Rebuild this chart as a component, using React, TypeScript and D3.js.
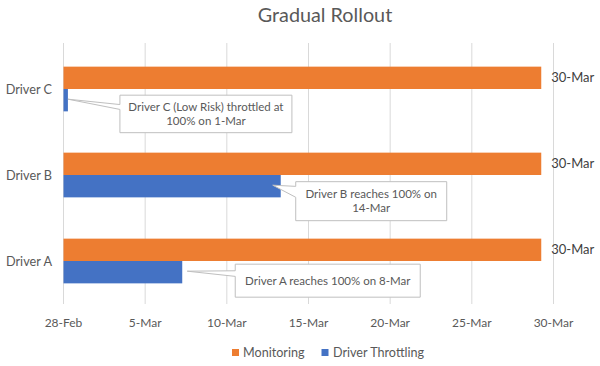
import * as d3 from 'd3';

// chart data (days counted from 28-Feb)
const categories = ['Driver C', 'Driver B', 'Driver A'];
const monitoringDays = [29.25, 29.25, 29.25];
const throttlingDays = [0.27, 13.3, 7.27];
const endLabels = ['30-Mar', '30-Mar', '30-Mar'];
const tickDays = [0, 5, 10, 15, 20, 25, 30];
const tickLabels = ['28-Feb', '5-Mar', '10-Mar', '15-Mar', '20-Mar', '25-Mar', '30-Mar'];
const seriesNames = ['Monitoring', 'Driver Throttling'];
const calloutText = [
  ['Driver C (Low Risk) throttled at', '100% on 1-Mar'],
  ['Driver B reaches 100% on', '14-Mar'],
  ['Driver A reaches 100% on 8-Mar'],
];

// callout box layout, relative to the end of the blue bar
const calloutLayout = [
  { dx: 52, dy: -4, w: 172, h: 37.5, tipDx: 0, b1: 0.25, b2: 0.38 },
  { dx: 15, dy: -3.5, w: 151, h: 39, tipDx: -8, b1: 0.12, b2: 0.4 },
  { dx: 53, dy: -7, w: 185, h: 33, tipDx: 5, b1: 0.2, b2: 0.37 },
];

const ORANGE = '#ED7D31';
const BLUE = '#4472C4';
const TEXT = '#595959';
const FONT = 'Lato, "Open Sans", sans-serif';

export default function App() {
  const width = 600;
  const height = 366;

  const x = d3.scaleLinear().domain([0, 30]).range([63.5, 553.5]);

  const y = d3.scaleBand<string>()
    .domain(categories)
    .range([46, 304])
    .paddingInner(0.48)
    .paddingOuter(0.24);

  const barH = y.bandwidth() / 2;

  return (
    <svg
      width={width}
      height={height}
      style={{ position: 'fixed', left: 0, top: 0, background: '#fff' }}
      fontFamily={FONT}
    >
      {/* Title */}
      <text x={325} y={22} textAnchor="middle" fontSize={19.8} fill={TEXT}>
        Gradual Rollout
      </text>

      {/* Gridlines */}
      {tickDays.map(t => (
        <line
          key={t}
          x1={x(t)}
          x2={x(t)}
          y1={43}
          y2={304}
          stroke="#d9d9d9"
          strokeWidth={1}
        />
      ))}

      {/* x tick labels */}
      {tickDays.map((t, i) => (
        <text
          key={t}
          x={x(t)}
          y={327}
          textAnchor="middle"
          fontSize={12}
          fill={TEXT}
        >
          {tickLabels[i]}
        </text>
      ))}

      {/* category labels */}
      {categories.map(c => (
        <text
          key={c}
          x={52}
          y={(y(c) ?? 0) + barH + 4.5}
          textAnchor="end"
          fontSize={12.7}
          fill={TEXT}
        >
          {c}
        </text>
      ))}

      {/* bars */}
      {categories.map((c, i) => (
        <g key={c}>
          <rect
            x={x(0)}
            y={y(c)}
            width={x(monitoringDays[i]) - x(0)}
            height={barH}
            fill={ORANGE}
          />
          <rect
            x={x(0)}
            y={(y(c) ?? 0) + barH}
            width={x(throttlingDays[i]) - x(0)}
            height={barH}
            fill={BLUE}
          />
          <text
            x={x(monitoringDays[i]) + 10}
            y={(y(c) ?? 0) + barH / 2 + 4.5}
            fontSize={13}
            fill="#404040"
          >
            {endLabels[i]}
          </text>
        </g>
      ))}

      {/* callouts */}
      {categories.map((c, i) => {
        const L = calloutLayout[i];
        const tipX = x(throttlingDays[i]) + L.tipDx;
        const tipY = (y(c) ?? 0) + barH * 1.5 - 1;
        const left = x(throttlingDays[i]) + L.dx;
        const top = tipY + L.dy;
        const right = left + L.w;
        const bottom = top + L.h;
        const path = `M${left},${top}H${right}V${bottom}H${left}` +
          `V${top + L.h * L.b2}L${tipX},${tipY}L${left},${top + L.h * L.b1}Z`;
        const lines = calloutText[i];
        const lineH = 14.5;
        const firstY = top + L.h / 2 - ((lines.length - 1) * lineH) / 2 + 4;
        return (
          <g key={c}>
            <path d={path} fill="#fff" stroke="#bfbfbf" strokeWidth={1} />
            {lines.map((ln, j) => (
              <text
                key={j}
                x={(left + right) / 2}
                y={firstY + j * lineH}
                textAnchor="middle"
                fontSize={11.5}
                fill={TEXT}
              >
                {ln}
              </text>
            ))}
          </g>
        );
      })}

      {/* legend */}
      <g>
        <rect x={232} y={349} width={7} height={7} fill={ORANGE} />
        <text x={243} y={356.5} fontSize={12.6} fill={TEXT}>{seriesNames[0]}</text>
        <rect x={321.5} y={349} width={7} height={7} fill={BLUE} />
        <text x={333} y={356.5} fontSize={12.6} fill={TEXT}>{seriesNames[1]}</text>
      </g>
    </svg>
  );
}
